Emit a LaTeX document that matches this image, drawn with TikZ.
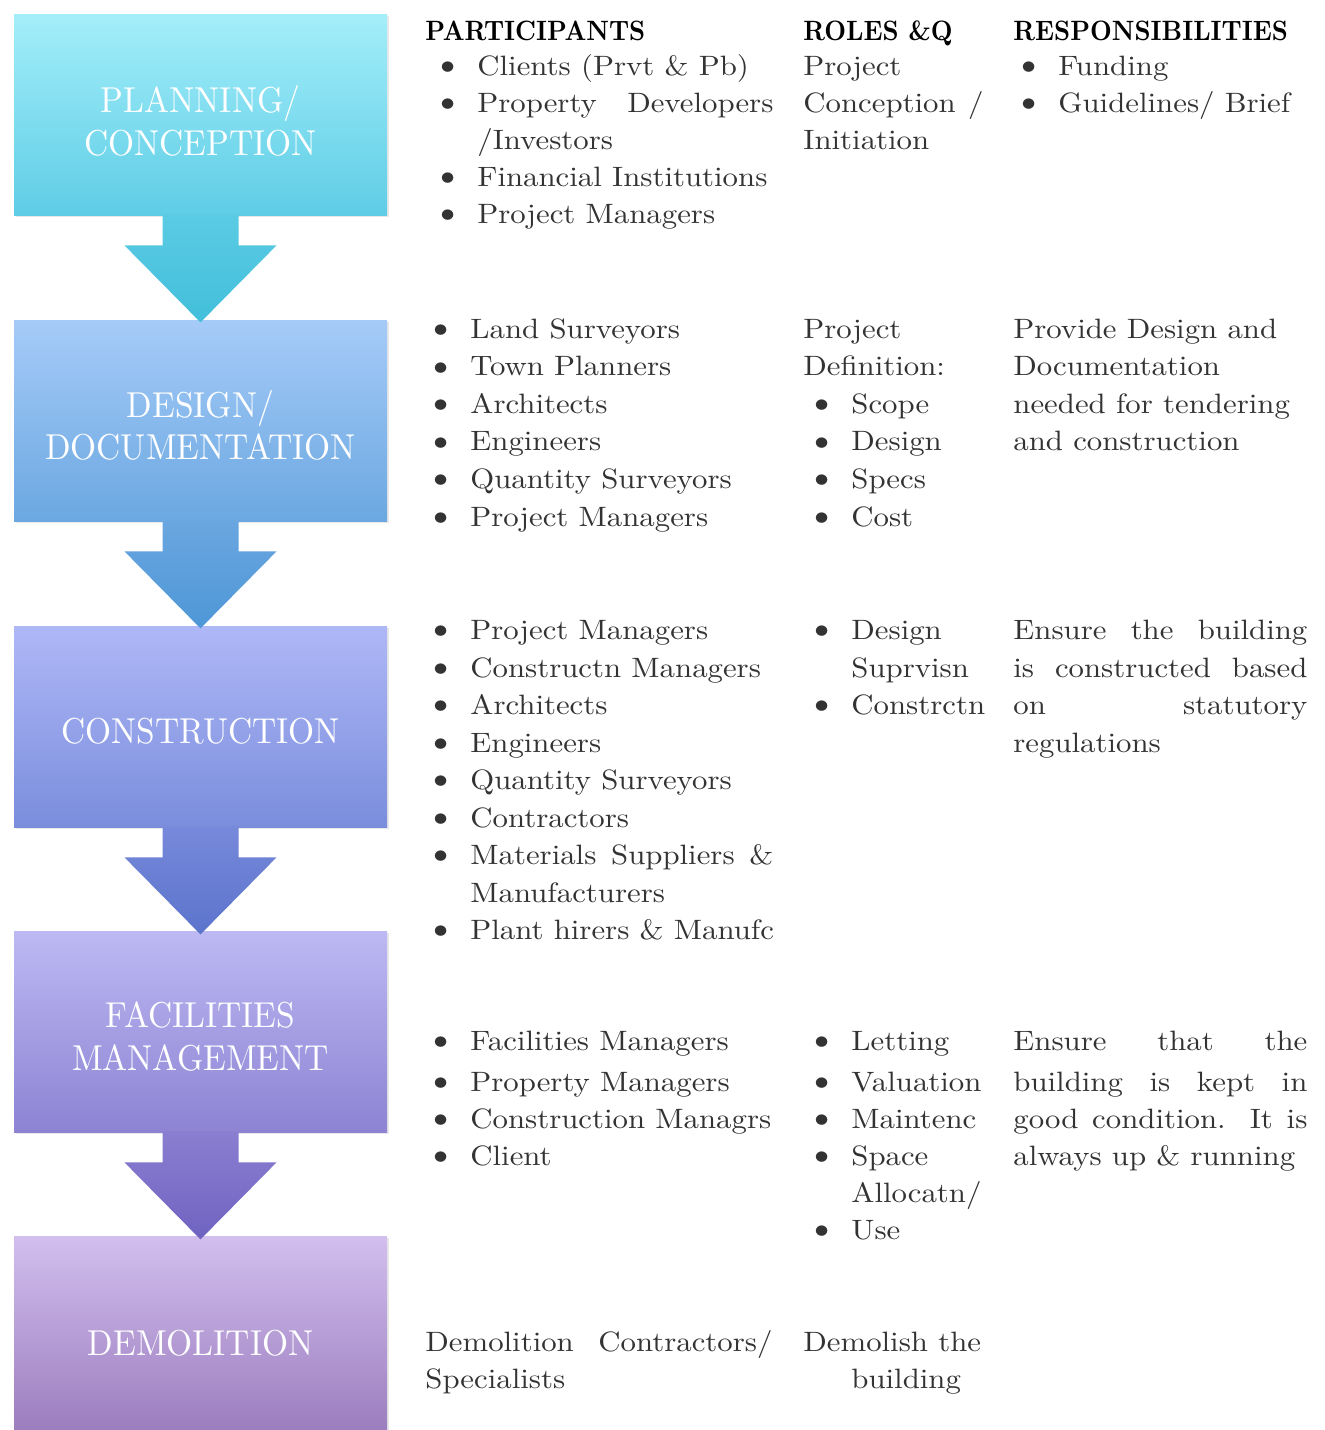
\documentclass[tikz,border=0pt]{standalone}
\usepackage{fontspec}
\setmainfont{lmroman10-regular.otf}[BoldFont=lmroman10-bold.otf, FakeStretch=1.1]
\newfontfamily\hdrfont{lmroman10-bold.otf}[FakeStretch=0.9]
\newfontfamily\lblfont{lmroman10-regular.otf}[FakeStretch=0.93]
\usetikzlibrary{calc,shadows}
\definecolor{bodygray}{HTML}{333333}
\definecolor{cAt}{HTML}{A3EEF9}\definecolor{cAb}{HTML}{5FCDE6}
\definecolor{aAt}{HTML}{5BCBE4}\definecolor{aAb}{HTML}{42BFDB}
\definecolor{cBt}{HTML}{A6CBF8}\definecolor{cBb}{HTML}{6BA8E1}
\definecolor{aBt}{HTML}{6AA6E0}\definecolor{aBb}{HTML}{4E97D7}
\definecolor{cCt}{HTML}{AFB8F7}\definecolor{cCb}{HTML}{7A8DDC}
\definecolor{aCt}{HTML}{7789DA}\definecolor{aCb}{HTML}{5B74CC}
\definecolor{cDt}{HTML}{BDB9F3}\definecolor{cDb}{HTML}{8D83D3}
\definecolor{aDt}{HTML}{8A7ED1}\definecolor{aDb}{HTML}{6F63C1}
\definecolor{cEt}{HTML}{D2BFEE}\definecolor{cEb}{HTML}{9A7BBD}
\newcommand\bu{\makebox[22.5pt][l]{\raisebox{-0.4pt}{\scalebox{1.3}{\textbullet}}}}
\newcommand\js[2]{\makebox[#1][s]{#2}}
\newcommand\flowarrow[3]{%
  \shade[top color=#2,bottom color=#3]
    ($(#1.south)+(-38,-1)$) -- ($(#1.south)+(-38,30)$) -- ($(#1.south)+(-76,30)$)
    -- ($(#1.south)+(0,107)$) -- ($(#1.south)+(76,30)$) -- ($(#1.south)+(38,30)$)
    -- ($(#1.south)+(38,-1)$) -- cycle;}
\begin{document}
\begin{tikzpicture}[x=0.5pt,y=-0.5pt,
  box/.style={rectangle, minimum width=186.5pt, minimum height=100.5pt, inner sep=0pt,
    drop shadow={opacity=0.18, shadow xshift=1.2pt, shadow yshift=-1.2pt}},
  lbl/.style={anchor=base, inner sep=0pt, text=white, font=\lblfont\fontsize{18pt}{21pt}\selectfont},
  txt/.style={anchor=base west, inner sep=0pt, text=bodygray, font=\fontsize{14pt}{16pt}\selectfont},
  hdr/.style={anchor=base west, inner sep=0pt, text=black, font=\hdrfont\bfseries\fontsize{14pt}{16pt}\selectfont}]
\useasboundingbox (0,0) rectangle (1324,1430);
\fill[white] (0,0) rectangle (1324,1430);
% boxes
\node[box, top color=cAt, bottom color=cAb] (b1) at (200.5,114.5) {};
\node[box, top color=cBt, bottom color=cBb] (b2) at (200.5,420.5) {};
\node[box, top color=cCt, bottom color=cCb] (b3) at (200.5,726.5) {};
\node[box, top color=cDt, bottom color=cDb] (b4) at (200.5,1031.5) {};
\node[box, top color=cEt, bottom color=cEb] (b5) at (200.5,1336.5) {};
% arrows
\flowarrow{b1}{aAt}{aAb}
\flowarrow{b2}{aBt}{aBb}
\flowarrow{b3}{aCt}{aCb}
\flowarrow{b4}{aDt}{aDb}
% box labels
\node[lbl] (l1a) at (200.5,112.5) {PLANNING/};
\node[lbl] (l1b) at (200.5,155.5) {CONCEPTION};
\node[lbl] (l2a) at (200.5,417.5) {DESIGN/};
\node[lbl] (l2b) at (200.5,459.5) {DOCUMENTATION};
\node[lbl] (l3) at (200.5,743.5) {CONSTRUCTION};
\node[lbl] (l4a) at (200.5,1027.5) {FACILITIES};
\node[lbl] (l4b) at (200.5,1070.5) {MANAGEMENT};
\node[lbl] (l5) at (200.5,1355.5) {DEMOLITION};
% headers
\node[hdr] (h1) at (425,40) {PARTICIPANTS};
\node[hdr] (h2) at (803,40) {ROLES \&Q};
\node[hdr] (h3) at (1013,40) {RESPONSIBILITIES};
% section 1
\node[txt] (p11) at (432,75) {\bu Clients (Prvt \& Pb)};
\node[txt] (p12) at (432,112) {\bu\js{148pt}{Property Developers}};
\node[txt] (p13) at (477,149) {/Investors};
\node[txt] (p14) at (432,186) {\bu Financial Institutions};
\node[txt] (p15) at (432,223) {\bu Project Managers};
\node[txt] (r11) at (803,75) {Project};
\node[txt] (r12) at (803,112) {\js{90pt}{Conception /}};
\node[txt] (r13) at (803,149) {Initiation};
\node[txt] (s11) at (1013,75) {\bu Funding};
\node[txt] (s12) at (1013,112) {\bu Guidelines/ Brief};
% section 2
\node[txt] (p21) at (425,338) {\bu Land Surveyors};
\node[txt] (p22) at (425,375.5) {\bu Town Planners};
\node[txt] (p23) at (425,413) {\bu Architects};
\node[txt] (p24) at (425,450.5) {\bu Engineers};
\node[txt] (p25) at (425,488) {\bu Quantity Surveyors};
\node[txt] (p26) at (425,526) {\bu Project Managers};
\node[txt] (r21) at (803,338) {Project};
\node[txt] (r22) at (803,375.5) {Definition:};
\node[txt] (r23) at (806,413) {\bu Scope};
\node[txt] (r24) at (806,450.5) {\bu Design};
\node[txt] (r25) at (806,488) {\bu Specs};
\node[txt] (r26) at (806,526) {\bu Cost};
\node[txt] (s21) at (1013,338) {Provide Design and};
\node[txt] (s22) at (1013,375.5) {Documentation};
\node[txt] (s23) at (1013,413) {needed for tendering};
\node[txt] (s24) at (1013,450.5) {and construction};
% section 3
\node[txt] (p31) at (425,639) {\bu Project Managers};
\node[txt] (p32) at (425,677) {\bu Constructn Managers};
\node[txt] (p33) at (425,714) {\bu Architects};
\node[txt] (p34) at (425,752) {\bu Engineers};
\node[txt] (p35) at (425,789) {\bu Quantity Surveyors};
\node[txt] (p36) at (425,827) {\bu Contractors};
\node[txt] (p37) at (425,864) {\bu\js{151.5pt}{Materials Suppliers \&}};
\node[txt] (p38) at (470,902) {Manufacturers};
\node[txt] (p39) at (425,939) {\bu Plant hirers \& Manufc};
\node[txt] (r31) at (806,639) {\bu Design};
\node[txt] (r32) at (851,677) {Suprvisn};
\node[txt] (r33) at (806,714) {\bu Constrctn};
\node[txt] (s31) at (1013,639) {\js{147pt}{Ensure the building}};
\node[txt] (s32) at (1013,677) {\js{147pt}{is constructed based}};
\node[txt] (s33) at (1013,714) {\js{147pt}{on statutory}};
\node[txt] (s34) at (1013,752) {regulations};
% section 4
\node[txt] (p41) at (425,1050) {\bu Facilities Managers};
\node[txt] (p42) at (425,1091) {\bu Property Managers};
\node[txt] (p43) at (425,1128) {\bu Construction Managrs};
\node[txt] (p44) at (425,1165) {\bu Client};
\node[txt] (r41) at (806,1050) {\bu Letting};
\node[txt] (r42) at (806,1091) {\bu Valuation};
\node[txt] (r43) at (806,1128) {\bu Maintenc};
\node[txt] (r44) at (806,1165) {\bu Space};
\node[txt] (r45) at (851,1202) {Allocatn/};
\node[txt] (r46) at (806,1239) {\bu Use};
\node[txt] (s41) at (1013,1050) {\js{147pt}{Ensure that the}};
\node[txt] (s42) at (1013,1091) {\js{147pt}{building is kept in}};
\node[txt] (s43) at (1013,1128) {\js{147pt}{good condition. It is}};
\node[txt] (s44) at (1013,1165) {always up \& running};
% section 5
\node[txt] (p51) at (425,1351) {\js{173.5pt}{Demolition Contractors/}};
\node[txt] (p52) at (425,1388) {Specialists};
\node[txt] (r51) at (803,1351) {Demolish the};
\node[txt] (r52) at (851,1388) {building};
\end{tikzpicture}
\end{document}
